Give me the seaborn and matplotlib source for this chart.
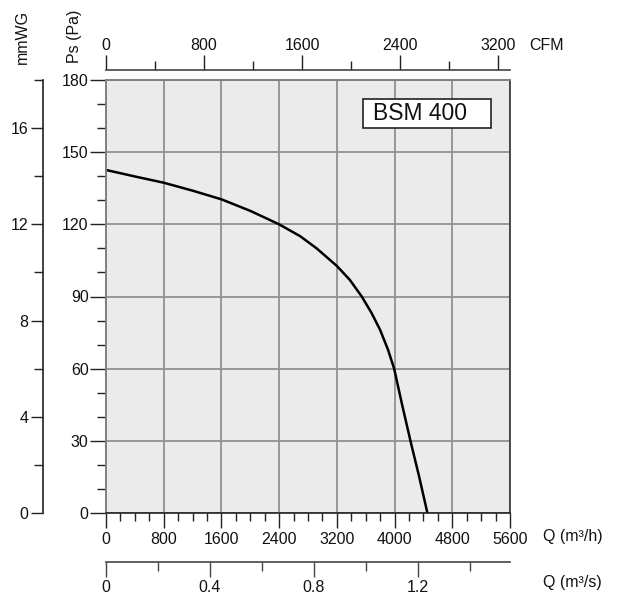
import numpy as np
import pandas as pd
import matplotlib
matplotlib.use("Agg")
import matplotlib.pyplot as plt
import seaborn as sns
from matplotlib.patches import Rectangle
from matplotlib.ticker import MultipleLocator, FixedLocator, FuncFormatter

# Fan curve (flow in m3/h, static pressure in Pa)
flow_m3h = [0, 400, 800, 1200, 1600, 2000, 2400, 2690, 2920, 3200, 3380, 3545,
            3680, 3800, 3910, 3995, 4100, 4220, 4340, 4455]
static_pa = [142.6, 139.9, 137.3, 134.0, 130.4, 125.6, 120.0, 115.1, 110.0, 102.7, 96.9, 90.0,
             83.2, 76.1, 67.8, 59.9, 45.6, 30.0, 15.2, 0.0]
model_name = "BSM 400"

q_major = [0, 800, 1600, 2400, 3200, 4000, 4800, 5600]
cfm_major = [0, 800, 1600, 2400, 3200]
cfm_minor = [400, 1200, 2000, 2800]
m3s_major = [0, 0.4, 0.8, 1.2]
m3s_minor = [0.2, 0.6, 1.0, 1.4]
pa_major = [0, 30, 60, 90, 120, 150, 180]
mmwg_major = [0, 4, 8, 12, 16]
mmwg_minor = [2, 6, 10, 14, 18]

M3H_PER_CFM = 1.699

sns.set_style("ticks")
plt.rcParams['font.family'] = ['Liberation Sans', 'DejaVu Sans']
plt.rcParams['font.size'] = 11.5
plt.rcParams['text.color'] = '#111111'
plt.rcParams['xtick.color'] = '#111111'
plt.rcParams['ytick.color'] = '#111111'

W, H = 638, 610
fig = plt.figure(figsize=(W / 100, H / 100), dpi=100)
ax = fig.add_axes([106 / W, 97 / H, 404 / W, 433 / H])
ax.set_facecolor('#ebebeb')

df = pd.DataFrame({'Q': flow_m3h, 'Ps': static_pa})
sns.lineplot(data=df, x='Q', y='Ps', ax=ax, color='black', linewidth=1.8)

ax.set_xlim(0, 5600)
ax.set_ylim(0, 180)
ax.xaxis.set_major_locator(FixedLocator(q_major))
ax.xaxis.set_minor_locator(MultipleLocator(200))
ax.yaxis.set_major_locator(FixedLocator(pa_major))
ax.yaxis.set_minor_locator(MultipleLocator(10))
ax.set_xlabel('')
ax.set_ylabel('')
ax.grid(True, which='major', color='#919191', linewidth=1.3)
ax.set_axisbelow(True)

ax.tick_params(axis='x', which='major', length=11, width=1, color='#222', pad=2.5, labelsize=11.5)
ax.tick_params(axis='x', which='minor', length=6, width=1, color='#222')
ax.tick_params(axis='y', which='major', length=11.5, width=1, color='#222', pad=1, labelsize=11.5)
ax.tick_params(axis='y', which='minor', length=6.5, width=1, color='#222')

for side in ['top', 'left']:
    ax.spines[side].set_color('#808080')
    ax.spines[side].set_linewidth(1.4)
ax.spines['right'].set_visible(True)
ax.spines['right'].set_color('#333333')
ax.spines['right'].set_linewidth(1.2)
ax.spines['bottom'].set_color('#222222')
ax.spines['bottom'].set_linewidth(1.2)

# top CFM axis
top = ax.secondary_xaxis(1 + 10 / 433, functions=(lambda q: q / M3H_PER_CFM, lambda c: c * M3H_PER_CFM))
top.xaxis.set_major_locator(FixedLocator(cfm_major))
top.xaxis.set_minor_locator(FixedLocator(cfm_minor))
top.tick_params(which='major', length=11, width=1, color='#222', pad=1.5, labelsize=11.5)
top.tick_params(which='minor', length=6.5, width=1, color='#222')
top.spines['top'].set_color('#444')
top.spines['top'].set_linewidth(1.2)

# bottom m3/s axis
bot = ax.secondary_xaxis(-48.5 / 433, functions=(lambda q: q / 3600, lambda s: s * 3600))
bot.xaxis.set_major_locator(FixedLocator(m3s_major))
bot.xaxis.set_minor_locator(FixedLocator(m3s_minor))
bot.xaxis.set_major_formatter(FuncFormatter(lambda v, p: f"{v:g}"))
bot.tick_params(which='major', length=11, width=1, color='#444', pad=2, labelsize=11.5)
bot.tick_params(which='minor', length=6.5, width=1, color='#444')
bot.spines['bottom'].set_color('#444')
bot.spines['bottom'].set_linewidth(1.2)

# far-left mmWG axis
left = ax.secondary_yaxis(-63.5 / 404, functions=(lambda p: p / 10, lambda m: m * 10))
left.yaxis.set_major_locator(FixedLocator(mmwg_major))
left.yaxis.set_minor_locator(FixedLocator(mmwg_minor))
left.tick_params(which='major', length=9, width=1, color='#222', pad=1, labelsize=11.5)
left.tick_params(which='minor', length=6.5, width=1, color='#222')
left.spines['left'].set_color('#222')
left.spines['left'].set_linewidth(1.2)

# model label box
ax.add_patch(Rectangle((0.637, 0.888), 0.316, 0.069, transform=ax.transAxes,
                       facecolor='white', edgecolor='#222', linewidth=1.2, zorder=5))
ax.text(0.662, 0.922, model_name, transform=ax.transAxes, fontsize=16.5,
        va='center', ha='left', zorder=6)

# axis titles
fig.text(22 / W, 1 - 37 / H, 'mmWG', rotation=90, ha='center', va='center', fontsize=11.5)
fig.text(75 / W, 1 - 36 / H, 'Ps (Pa)', rotation=90, ha='center', va='center', fontsize=11.5)
fig.text(529 / W, 1 - 46 / H, 'CFM', ha='left', va='center', fontsize=11.5)
fig.text(543 / W, 1 - 537 / H, 'Q (m³/h)', ha='left', va='center', fontsize=11.5)
fig.text(543 / W, 1 - 583 / H, 'Q (m³/s)', ha='left', va='center', fontsize=11.5)

fig.savefig('out.png', dpi=100, facecolor='white')
